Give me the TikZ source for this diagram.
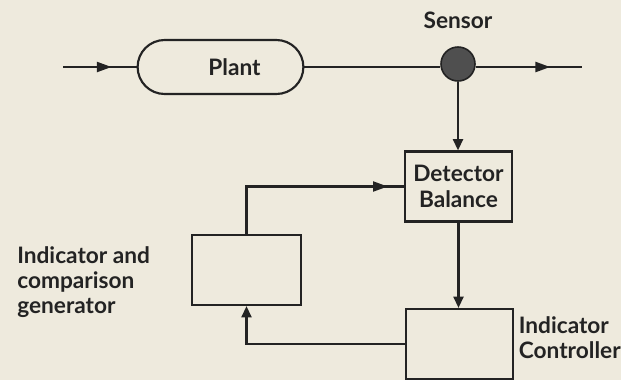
\documentclass[tikz,border=0pt]{standalone}
\usepackage{fontspec}
\setmainfont{Lato}
\usetikzlibrary{shapes.misc, arrows.meta, positioning, decorations.markings}
\definecolor{paper}{RGB}{238,234,221}
\definecolor{ink}{RGB}{35,35,35}
\tikzset{
    base/.style = {rectangle, draw=ink, line width=1.6pt, minimum width=80pt, minimum height=52.5pt, text=ink, align=center, font=\fontsize{17}{19}\selectfont\bfseries},
    plantbox/.style = {base, rounded rectangle, minimum width=131pt, minimum height=40.5pt},
    sensornode/.style = {circle, draw=ink, fill=ink!80, line width=1.2pt, minimum size=25.5pt, inner sep=0pt},
    lbl/.style = {inner sep=0pt, text=ink, align=left, font=\fontsize{17}{19}\selectfont\bfseries},
    line/.style = {line width=1.6pt, draw=ink},
    arrow/.style = {line, -{Triangle[length=8.5pt, width=7.5pt]}},
    midarrow/.style = {line, postaction={decorate}, decoration={markings, mark=at position #1 with {\arrow{Triangle[length=11pt, width=7.5pt]}}}}
}
\begin{document}
\begin{tikzpicture}[x=0.75pt, y=-0.75pt]
    \fill[paper] (0,0) rectangle (621,380);
    \useasboundingbox (0,0) rectangle (621,380);

    % Plant and Sensor
    \node (plant) [plantbox] at (220.5,67) {\hspace*{21pt}Plant};
    \node (sensor) [sensornode] at (458,64) {};
    \node (senslbl) [lbl, above=13pt of sensor] {Sensor};
    \coordinate (in) at (63,67);
    \coordinate (out) at (582,67);

    % Detector and Controller
    \node (det) [base] at (458.5,186.5) {Detector\\Balance};
    \node (ctrl) [base] at (459.5,344) {};
    \node (ctrllbl) [lbl, right=3.5pt of ctrl, yshift=5pt] {Indicator\\Controller};

    % Comparison generator
    \node (gen) [base, minimum width=81.75pt] at (246.5,270) {};
    \node (genlbl) [lbl, anchor=west] at (17,282) {Indicator and\\comparison\\generator};

    % Main line
    \draw [midarrow=0.66] (in) -- (plant);
    \draw [line] (plant.east) -- (sensor.west |- plant.east);
    \draw [midarrow=0.7] (sensor.east |- out) -- (out);

    % Measuring loop
    \draw [arrow] (sensor) -- (sensor |- det.north);
    \draw [arrow] (det.south) -- (det.south |- ctrl.north);
    \draw [arrow] (ctrl.west) -| (gen.south);
    \draw [midarrow=0.92] (gen.north) |- (det.west);
\end{tikzpicture}
\end{document}
